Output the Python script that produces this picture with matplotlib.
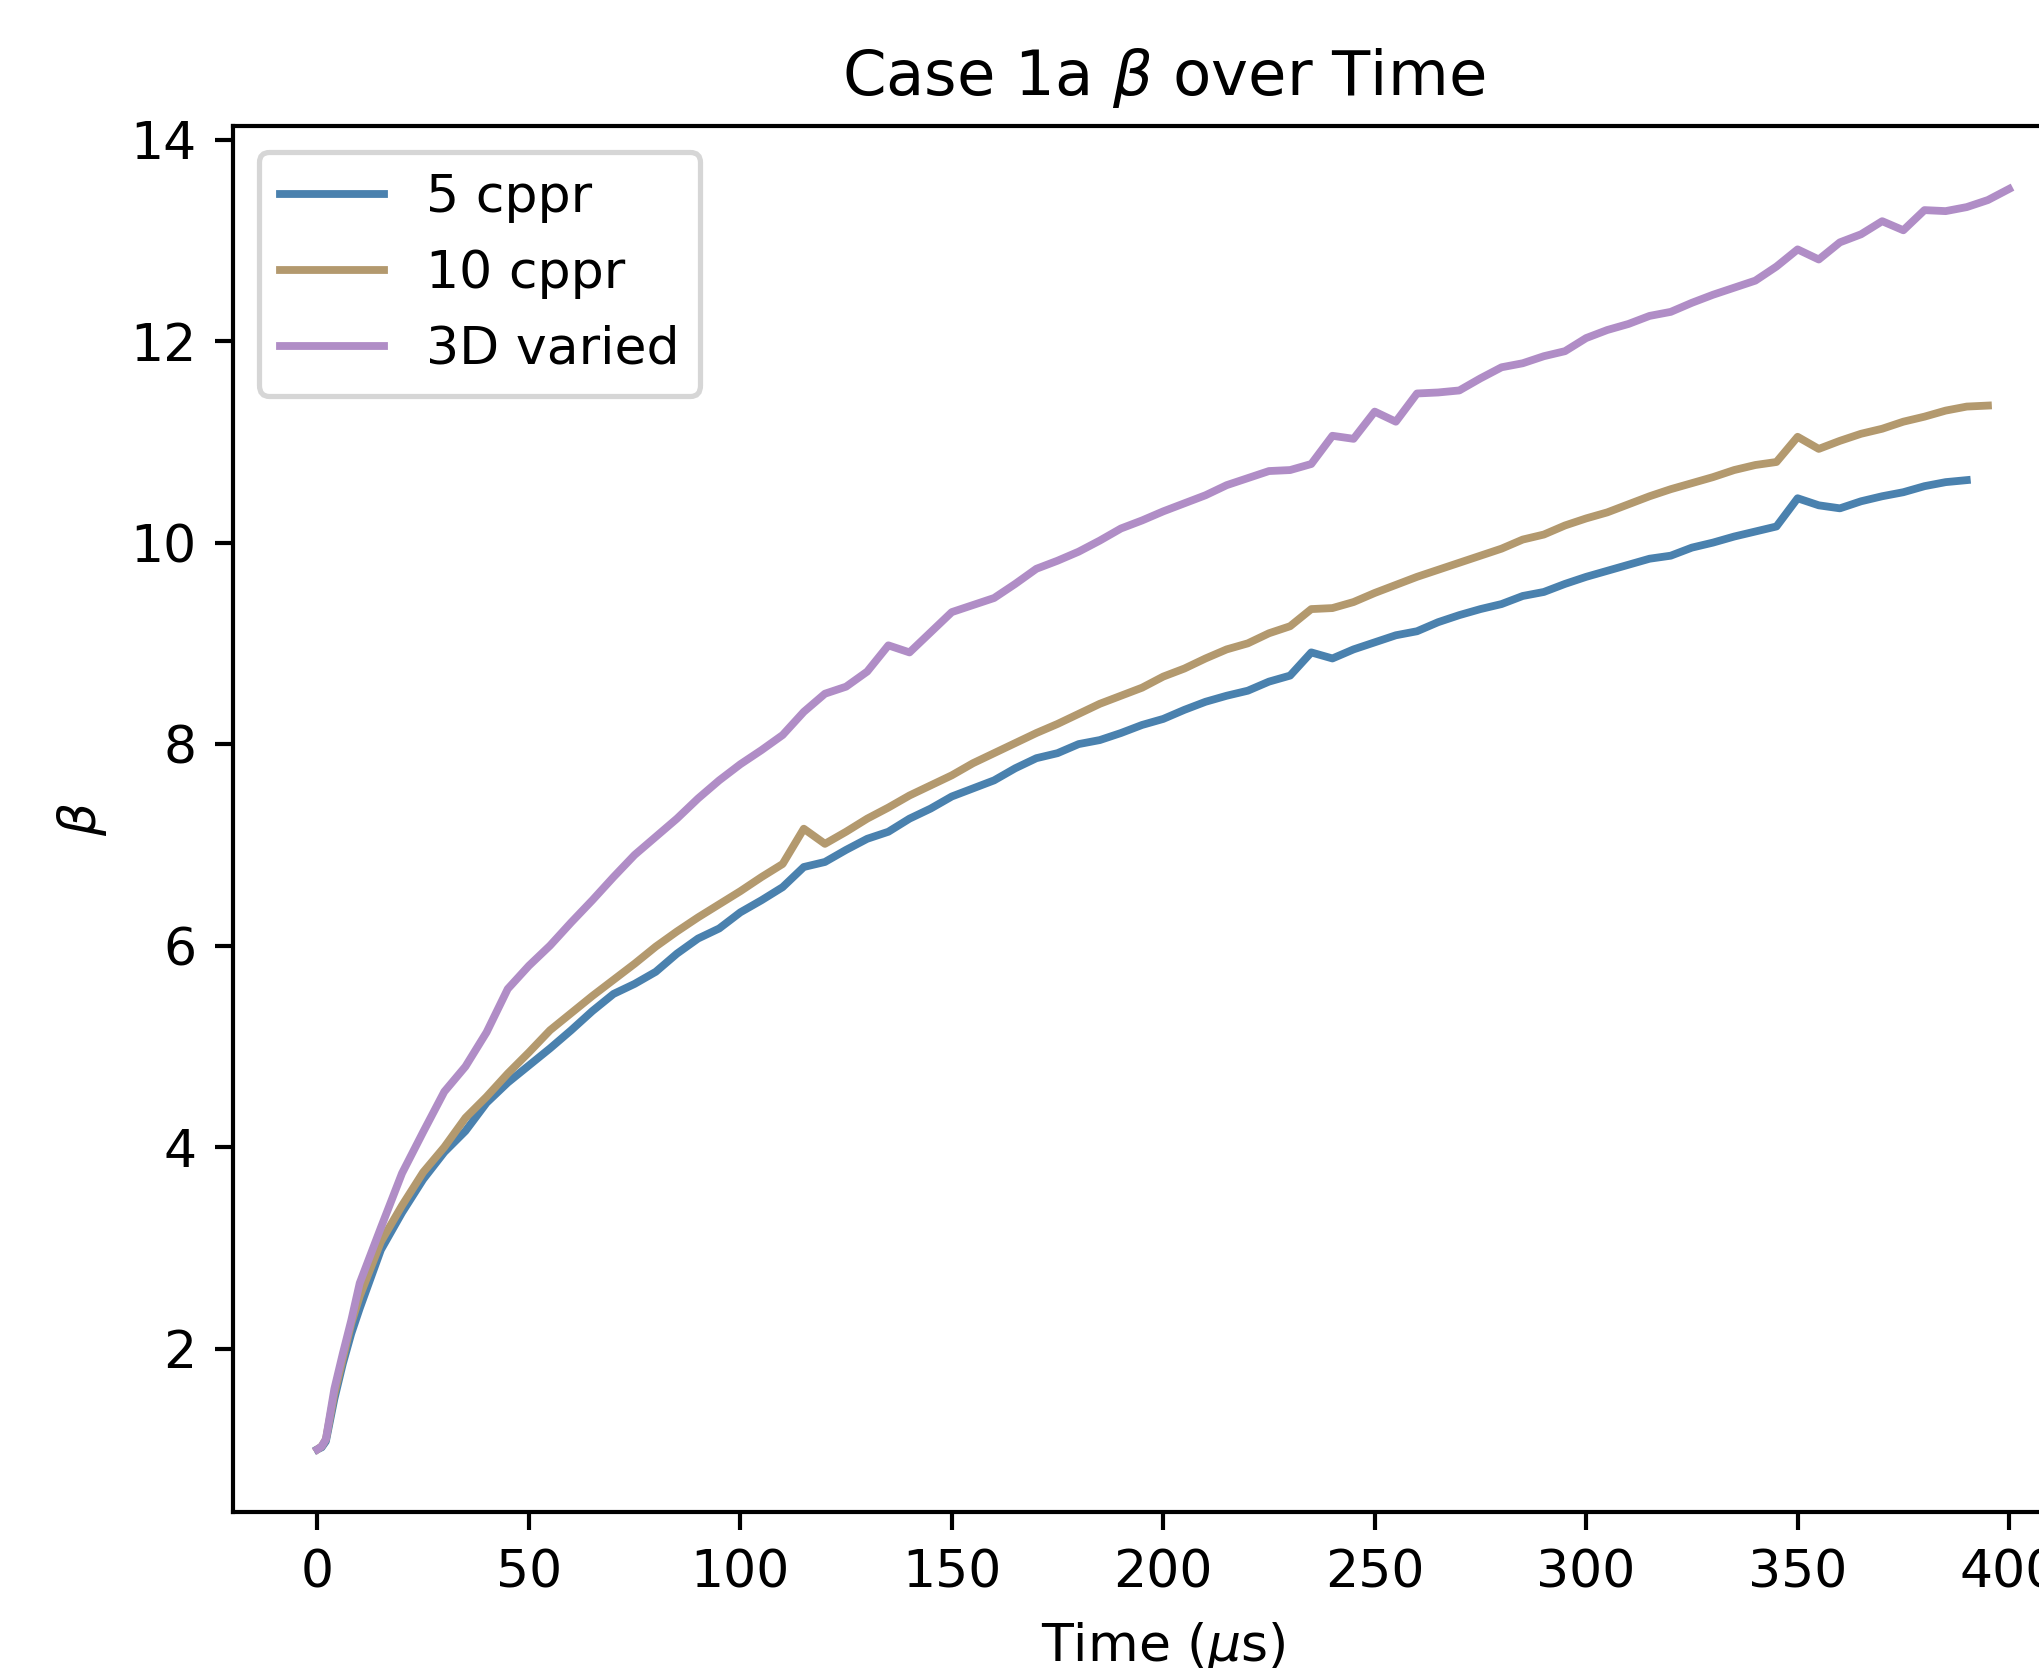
import matplotlib
matplotlib.use("Agg")
import matplotlib.pyplot as plt

# time points (us)
time = [0, 1, 2, 4, 6, 8, 10,
        15, 20, 25, 30, 35, 40, 45, 50, 55, 60,
        65, 70, 75, 80, 85, 90, 95, 100, 105, 110,
        115, 120, 125, 130, 135, 140, 145, 150, 155, 160,
        165, 170, 175, 180, 185, 190, 195, 200, 205, 210,
        215, 220, 225, 230, 235, 240, 245, 250, 255, 260,
        265, 270, 275, 280, 285, 290, 295, 300, 305, 310,
        315, 320, 325, 330, 335, 340, 345, 350, 355, 360,
        365, 370, 375, 380, 385, 390, 395, 400]

# beta for each run
beta_5cppr = [1.00, 1.02, 1.08, 1.50, 1.85, 2.15, 2.40,
              2.98, 3.35, 3.68, 3.95, 4.16, 4.44, 4.64, 4.81, 4.98, 5.16,
              5.35, 5.52, 5.62, 5.74, 5.92, 6.07, 6.17, 6.33, 6.45, 6.58,
              6.78, 6.83, 6.95, 7.06, 7.13, 7.26, 7.36, 7.48, 7.56, 7.64,
              7.76, 7.86, 7.91, 8.00, 8.04, 8.11, 8.19, 8.25, 8.34, 8.42,
              8.48, 8.53, 8.62, 8.68, 8.91, 8.85, 8.94, 9.01, 9.08, 9.12,
              9.21, 9.28, 9.34, 9.39, 9.47, 9.51, 9.59, 9.66, 9.72, 9.78,
              9.84, 9.87, 9.95, 10.00, 10.06, 10.11, 10.16, 10.44, 10.37, 10.34,
              10.41, 10.46, 10.50, 10.56, 10.60, 10.62]

beta_10cppr = [1.00, 1.03, 1.10, 1.55, 1.90, 2.25, 2.52,
               3.06, 3.42, 3.75, 4.00, 4.29, 4.50, 4.73, 4.94, 5.16, 5.33,
               5.50, 5.66, 5.82, 5.99, 6.14, 6.28, 6.41, 6.54, 6.68, 6.81,
               7.16, 7.01, 7.13, 7.26, 7.37, 7.49, 7.59, 7.69, 7.81, 7.91,
               8.01, 8.11, 8.20, 8.30, 8.40, 8.48, 8.56, 8.67, 8.75, 8.85,
               8.94, 9.00, 9.10, 9.17, 9.34, 9.35, 9.41, 9.50, 9.58, 9.66,
               9.73, 9.80, 9.87, 9.94, 10.03, 10.08, 10.17, 10.24, 10.30, 10.38,
               10.46, 10.53, 10.59, 10.65, 10.72, 10.77, 10.80, 11.05, 10.93, 11.01,
               11.08, 11.13, 11.20, 11.25, 11.31, 11.35, 11.36]

beta_3d = [1.00, 1.03, 1.10, 1.60, 1.95, 2.28, 2.65,
           3.20, 3.74, 4.15, 4.55, 4.80, 5.14, 5.57, 5.80, 6.00, 6.23,
           6.45, 6.68, 6.90, 7.08, 7.26, 7.46, 7.64, 7.80, 7.94, 8.09,
           8.32, 8.50, 8.57, 8.72, 8.98, 8.91, 9.11, 9.31, 9.38, 9.45,
           9.59, 9.74, 9.82, 9.91, 10.02, 10.14, 10.22, 10.31, 10.39, 10.47,
           10.57, 10.64, 10.71, 10.72, 10.78, 11.06, 11.03, 11.30, 11.20, 11.48,
           11.49, 11.51, 11.63, 11.74, 11.78, 11.85, 11.90, 12.03, 12.11, 12.17,
           12.25, 12.29, 12.38, 12.46, 12.53, 12.60, 12.74, 12.91, 12.81, 12.98,
           13.06, 13.19, 13.10, 13.30, 13.29, 13.33, 13.40, 13.51]

dpi = 375
fig = plt.figure(figsize=(2039 / dpi, 1668 / dpi), dpi=dpi)
ax = fig.add_axes([0.1142, 0.0933, 0.9126, 0.8312])

ax.plot(time[:len(beta_5cppr)], beta_5cppr, color='#4a81ae', label='5 cppr')
ax.plot(time[:len(beta_10cppr)], beta_10cppr, color='#b3996e', label='10 cppr')
ax.plot(time[:len(beta_3d)], beta_3d, color='#b08dc6', label='3D varied')

ax.set_title(r'Case 1a $\beta$ over Time')
ax.set_xlabel(r'Time ($\mu$s)')
ax.set_ylabel(r'$\beta$')
ax.legend(loc='upper left')

fig.savefig('out.png', dpi=dpi)
plt.close(fig)
